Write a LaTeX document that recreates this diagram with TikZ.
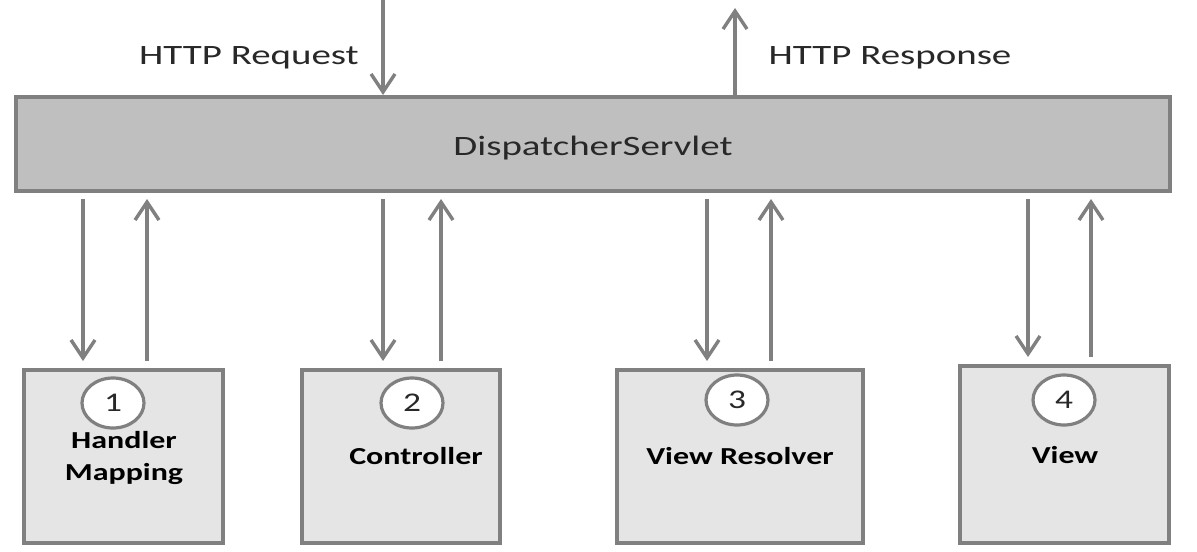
\documentclass[tikz,border=0pt]{standalone}
\usepackage{fontspec}
\setmainfont{Carlito}[FakeStretch=1.39]
\newfontfamily\labfont{Carlito}[FakeStretch=1.31]
\usetikzlibrary{arrows.meta,shapes.geometric}
\definecolor{edge}{RGB}{128,128,128}
\definecolor{dsfill}{RGB}{191,191,191}
\definecolor{compfill}{RGB}{229,229,229}
\definecolor{txtgray}{RGB}{40,40,40}
\tikzset{
  dsbox/.style={draw=edge, line width=2pt, fill=dsfill, minimum width=577pt, minimum height=47pt, inner sep=0pt,
    font=\fontsize{14}{17}\selectfont, text=txtgray, text height=11pt, text depth=0pt},
  compbox/.style={draw=edge, line width=2pt, fill=compfill, inner sep=0pt, minimum height=86.5pt},
  num/.style={draw=edge, line width=1.6pt, fill=white, ellipse, minimum width=31pt, minimum height=25pt, inner sep=0pt,
    font=\labfont\fontsize{13.5}{16}\selectfont, text=txtgray},
  lbl/.style={font=\labfont\bfseries\fontsize{12.2}{16}\selectfont, align=center, text=black, inner sep=0pt},
  toplbl/.style={font=\fontsize{14}{17}\selectfont, text=txtgray, inner sep=0pt},
  arr/.style={draw=edge, line width=1.7pt, -{Straight Barb[length=9pt,width=12pt]}}
}
\begin{document}
\begin{tikzpicture}[x=0.5pt,y=-0.5pt]
\useasboundingbox (0,0) rectangle (1197,551);
\fill[white] (0,0) rectangle (1197,551);
% main box
\node[dsbox] (ds) at (593,144) {DispatcherServlet};
% component boxes
\node[compbox, minimum width=99.5pt] (hm) at (123.5,456.5) {};
\node[compbox, minimum width=99pt] (ct) at (401,456.5) {};
\node[compbox, minimum width=123pt] (vr) at (740,456.5) {};
\node[compbox, minimum width=104.5pt, minimum height=88.5pt] (vw) at (1064.5,454.5) {};
% numbers
\node[num] (n1) at (113,403) {1};
\node[num] (n2) at (412,403) {2};
\node[num] (n3) at (737,400) {3};
\node[num] (n4) at (1064,400) {4};
% labels
\node[lbl, anchor=base] (l1) at (124,480) {Handler\\Mapping};
\node[lbl, anchor=base] (l2) at (416,464) {Controller};
\node[lbl, anchor=base] (l3) at (740,464) {View Resolver};
\node[lbl, anchor=base] (l4) at (1065,463) {View};
% top labels
\node[toplbl, anchor=base] (req) at (249,65) {HTTP Request};
\node[toplbl, anchor=base] (res) at (890,65) {HTTP Response};
% arrow coordinates
\coordinate (rq) at (383,0);
\coordinate (rs) at (735,8);
\coordinate (a1) at (83,0);
\coordinate (b1) at (147,0);
\coordinate (a2) at (383,0);
\coordinate (b2) at (441,0);
\coordinate (a3) at (707,0);
\coordinate (b3) at (771,0);
\coordinate (a4) at (1028,0);
\coordinate (b4) at (1091,0);
% arrows
\draw[arr] (rq) -- (ds.north -| rq);
\draw[arr] (ds.north -| rs) -- (rs);
\draw[arr, shorten <=3pt, shorten >=3.5pt] (ds.south -| a1) -- (hm.north -| a1);
\draw[arr, shorten <=3.5pt, shorten >=3pt] (hm.north -| b1) -- (ds.south -| b1);
\draw[arr, shorten <=3pt, shorten >=3.5pt] (ds.south -| a2) -- (ct.north -| a2);
\draw[arr, shorten <=3.5pt, shorten >=3pt] (ct.north -| b2) -- (ds.south -| b2);
\draw[arr, shorten <=3pt, shorten >=3.5pt] (ds.south -| a3) -- (vr.north -| a3);
\draw[arr, shorten <=3.5pt, shorten >=3pt] (vr.north -| b3) -- (ds.south -| b3);
\draw[arr, shorten <=3pt, shorten >=3.5pt] (ds.south -| a4) -- (vw.north -| a4);
\draw[arr, shorten <=3.5pt, shorten >=3pt] (vw.north -| b4) -- (ds.south -| b4);
\end{tikzpicture}
\end{document}
